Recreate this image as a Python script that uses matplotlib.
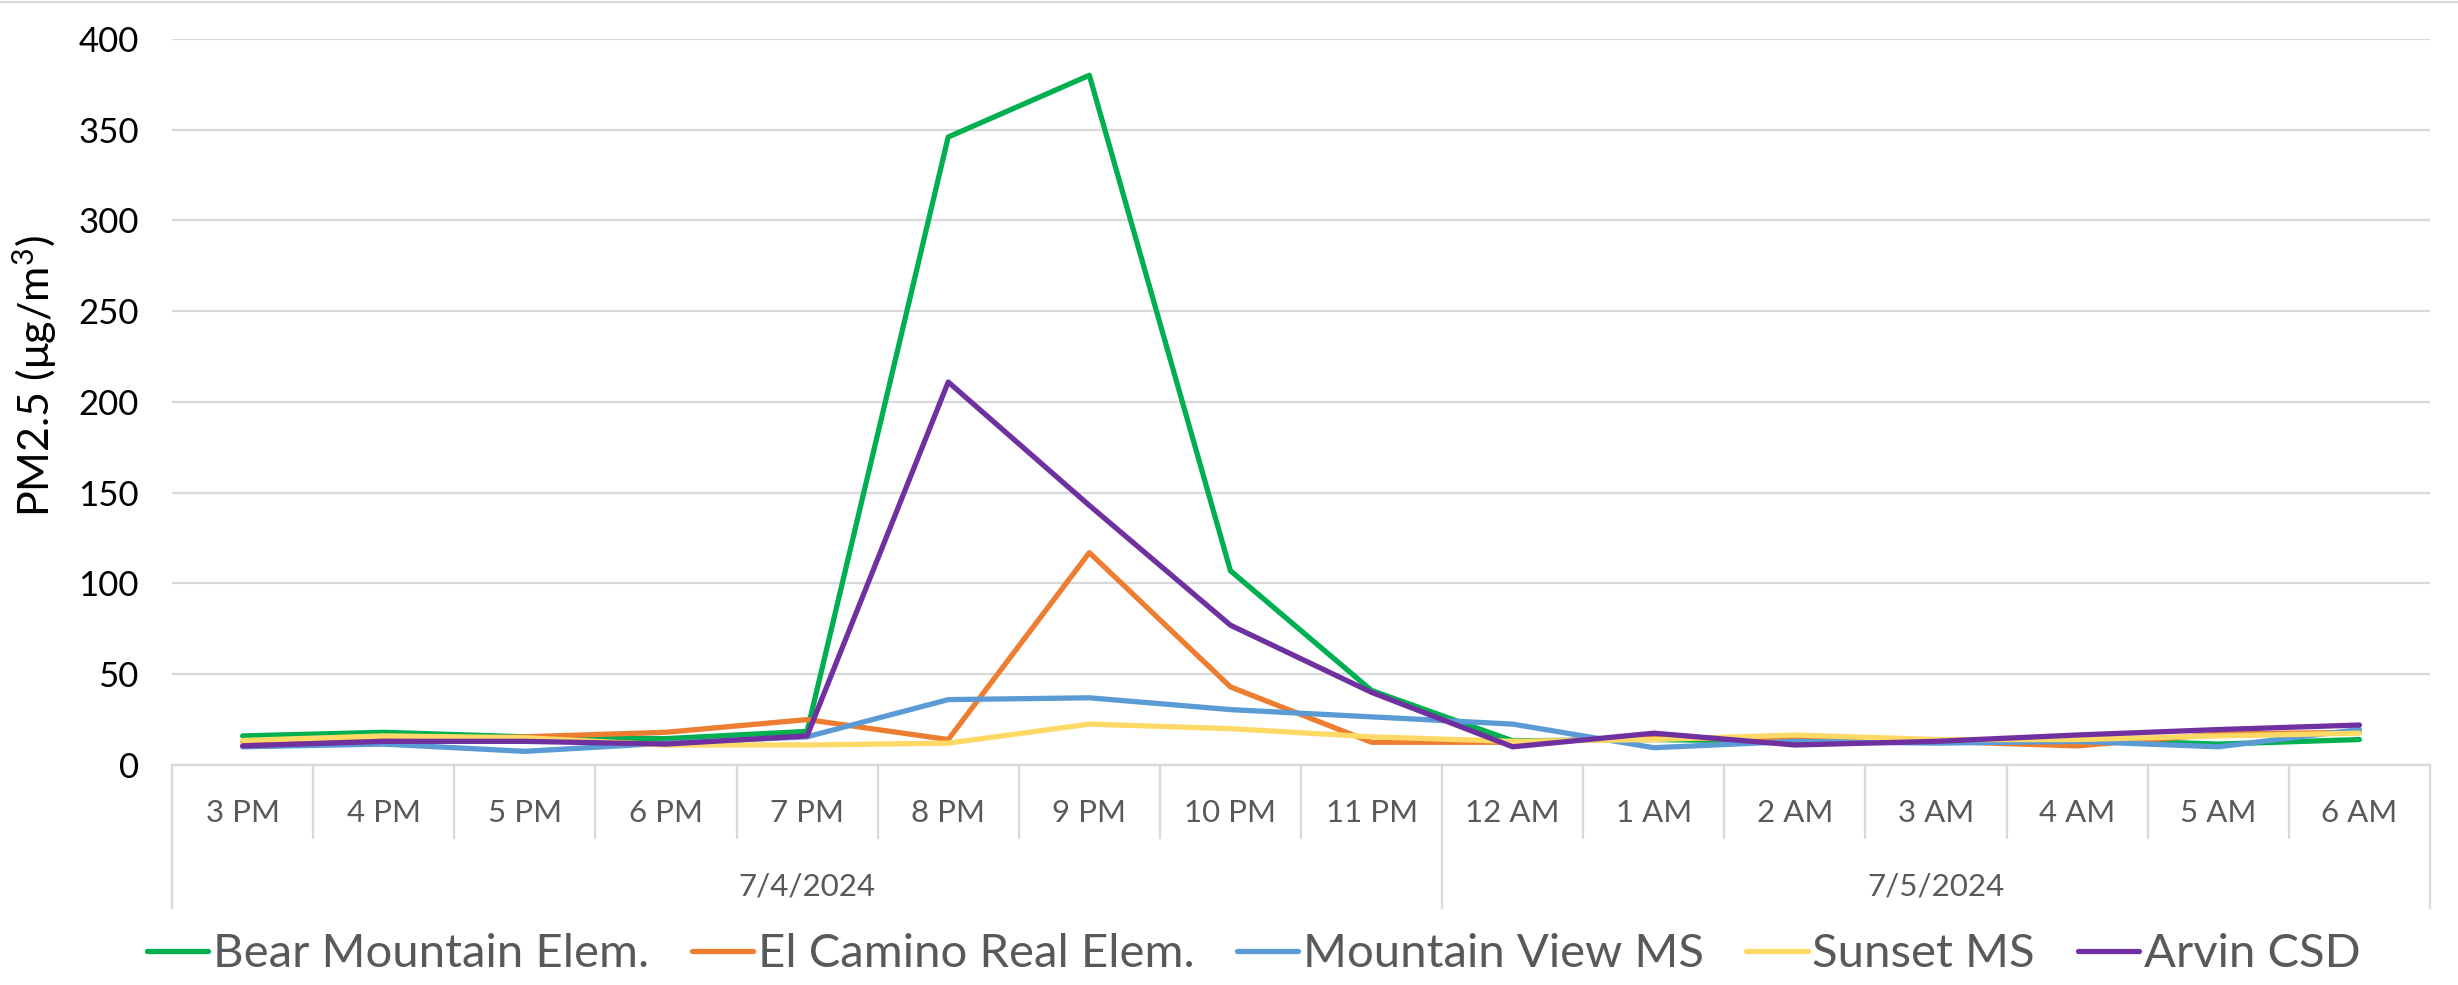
import matplotlib
matplotlib.use('Agg')
import matplotlib.pyplot as plt
from matplotlib.lines import Line2D
import matplotlib.transforms as mtransforms


HOURS = ['3 PM', '4 PM', '5 PM', '6 PM', '7 PM', '8 PM', '9 PM', '10 PM', '11 PM',
         '12 AM', '1 AM', '2 AM', '3 AM', '4 AM', '5 AM', '6 AM']
DATES = ['7/4/2024', '7/5/2024']
DATE_SPANS = [(0, 8), (9, 15)]

BEAR_MOUNTAIN = [16, 18, 15.5, 14.5, 18.5, 346, 380, 107, 41, 13.3, 14, 13, 13, 14, 11.5, 14]
EL_CAMINO = [13, 14, 15.5, 18, 25, 14, 117, 43, 12.5, 12.5, 15, 14, 13, 10.5, 17, 18]
MOUNTAIN_VIEW = [10, 11.5, 7.5, 12, 15.5, 36, 37, 30.5, 26.5, 22.5, 9.5, 13, 12, 13, 10, 19.5]
SUNSET = [13.5, 16, 15, 11, 11, 12, 22.5, 20, 15.5, 13, 14, 16.5, 14, 14, 16, 17.5]
ARVIN = [10.5, 13, 13, 11.5, 16, 211, 143, 77, 40, 10, 17.5, 11, 13, 16.5, 19.5, 22]

SERIES = [('Bear Mountain Elem.', BEAR_MOUNTAIN, '#00B050'),
          ('El Camino Real Elem.', EL_CAMINO, '#ED7D31'),
          ('Mountain View MS', MOUNTAIN_VIEW, '#5B9BD5'),
          ('Sunset MS', SUNSET, '#FFD966'),
          ('Arvin CSD', ARVIN, '#7030A0')]

plt.rcParams['font.family'] = ['Lato', 'DejaVu Sans']
plt.rcParams['mathtext.fontset'] = 'custom'
plt.rcParams['mathtext.rm'] = 'Lato'
plt.rcParams['mathtext.it'] = 'Lato'

GRID = '#D9D9D9'
TEXT_GRAY = '#595959'

fig = plt.figure(figsize=(24.58, 9.85), dpi=100)
ax = fig.add_axes([0.070, 0.2234, 0.9186, 0.737])

x = list(range(len(HOURS)))
for name, vals, color in SERIES:
    ax.plot(x, vals, color=color, lw=3.8, label=name, solid_joinstyle='round', solid_capstyle='round')

ax.set_xlim(-0.5, len(HOURS) - 0.5)
ax.set_ylim(0, 400)
ax.set_yticks(range(0, 401, 50))
ax.tick_params(axis='y', length=0, pad=24, labelsize=25, labelcolor='black')
ax.set_xticks([])
ax.grid(axis='y', color=GRID, lw=1.6)
ax.set_axisbelow(True)
for s in ['top', 'right', 'left']:
    ax.spines[s].set_visible(False)
ax.spines['bottom'].set_color(GRID)
ax.spines['bottom'].set_linewidth(1.6)

ax.set_ylabel('PM2.5 (μg/m$^{3}$)', fontsize=31, color='black')
ax.yaxis.set_label_coords(-0.050, 0.535)

# two-level category axis
trans = mtransforms.blended_transform_factory(ax.transData, ax.transAxes)
long_edges = [-0.5] + [end + 0.5 for _, end in DATE_SPANS]
for i in range(len(HOURS) + 1):
    xe = i - 0.5
    y_end = -0.197 if xe in long_edges else -0.1006
    ax.add_line(Line2D([xe, xe], [0, y_end], transform=trans, color=GRID, lw=1.6, clip_on=False))
for i, lab in enumerate(HOURS):
    ax.text(i, -0.066, lab, transform=trans, ha='center', va='center', fontsize=22.5, color=TEXT_GRAY)
for lab, (a, b) in zip(DATES, DATE_SPANS):
    ax.text((a + b) / 2, -0.168, lab, transform=trans, ha='center', va='center', fontsize=22.5, color=TEXT_GRAY)

fig.add_artist(Line2D([0, 1], [0.998, 0.998], transform=fig.transFigure, color=GRID, lw=1.5))

leg = fig.legend(loc='center', bbox_to_anchor=(0.51, 0.031), ncol=5, frameon=False,
                 fontsize=34, handlelength=1.3, handletextpad=0.1, columnspacing=0.9)
for t in leg.get_texts():
    t.set_color(TEXT_GRAY)

fig.savefig('out.png', dpi=100, facecolor='white')
